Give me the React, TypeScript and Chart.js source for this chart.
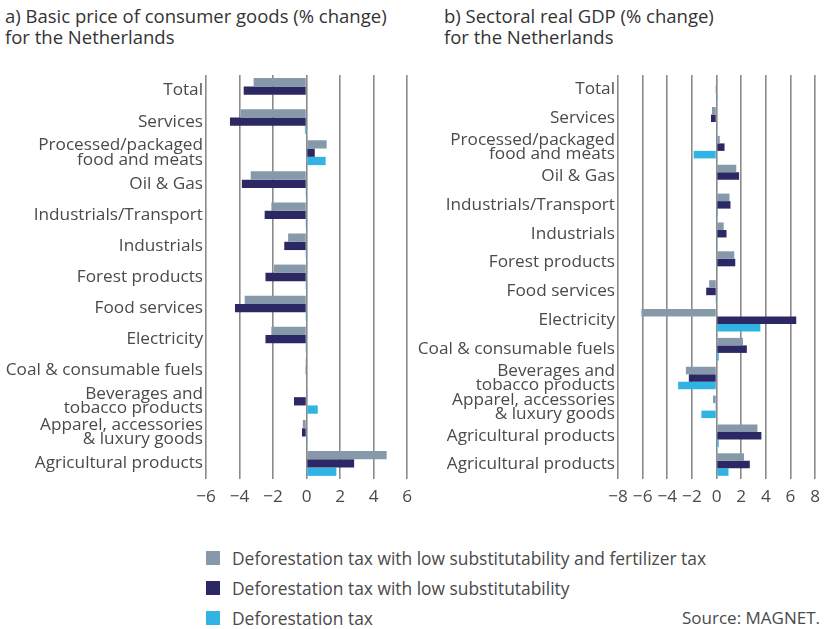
import React, { useEffect, useRef } from "react";
import { Chart, registerables } from "chart.js";

Chart.register(...registerables);

// ---------- Data ----------
const seriesNames = [
  "Deforestation tax with low substitutability and fertilizer tax",
  "Deforestation tax with low substitutability",
  "Deforestation tax",
];
const seriesColors = ["#8699ab", "#2c2864", "#31b4e3"];

const titleA = ["a) Basic price of consumer goods (% change)", "for the Netherlands"];
const titleB = ["b) Sectoral real GDP (% change)", "for the Netherlands"];

const categoriesA: (string | string[])[] = [
  "Total",
  "Services",
  ["Processed/packaged", "food and meats"],
  "Oil & Gas",
  "Industrials/Transport",
  "Industrials",
  "Forest products",
  "Food services",
  "Electricity",
  "Coal & consumable fuels",
  ["Beverages and", "tobacco products"],
  ["Apparel, accessories", "& luxury goods"],
  "Agricultural products",
];
const fertA = [-3.16, -3.94, 1.2, -3.33, -2.1, -1.1, -1.94, -3.69, -2.1, -0.03, 0.02, -0.22, 4.78];
const lowA = [-3.75, -4.57, 0.49, -3.86, -2.5, -1.33, -2.45, -4.27, -2.45, -0.03, -0.75, -0.27, 2.84];
const taxA = [0.05, -0.1, 1.14, -0.02, -0.02, -0.02, -0.02, -0.02, -0.02, 0.05, 0.67, 0.03, 1.78];

const categoriesB: (string | string[])[] = [
  "Total",
  "Services",
  ["Processed/packaged", "food and meats"],
  "Oil & Gas",
  "Industrials/Transport",
  "Industrials",
  "Forest products",
  "Food services",
  "Electricity",
  "Coal & consumable fuels",
  ["Beverages and", "tobacco products"],
  ["Apparel, accessories", "& luxury goods"],
  "Agricultural products",
  "Agricultural products",
];
const fertB = [0.02, -0.37, 0.26, 1.6, 1.05, 0.58, 1.44, -0.6, -6.1, 2.15, -2.49, -0.29, 3.32, 2.23];
const lowB = [-0.05, -0.45, 0.65, 1.83, 1.13, 0.81, 1.52, -0.84, 6.47, 2.46, -2.25, -0.05, 3.64, 2.7];
const taxB = [0.02, 0.05, -1.86, 0.05, 0.1, 0.08, 0.08, -0.02, 3.56, 0.18, -3.12, -1.23, 0.18, 0.97];

const xRangeA = [-6, 6];
const xRangeB = [-8, 8];
const sourceText = "Source: MAGNET.";

const FONT = "'Open Sans', 'Noto Sans', sans-serif";
const TEXT = "#4a4a4a";
const FS = 17.2;

function makeChart(
  canvas: HTMLCanvasElement,
  labels: (string | string[])[],
  values: number[][],
  range: number[],
  yWidth: number,
  padRight: number,
  catPct: number
) {
  return new Chart(canvas, {
    type: "bar",
    data: {
      labels,
      datasets: values.map((v, i) => ({
        label: seriesNames[i],
        data: v,
        backgroundColor: seriesColors[i],
        borderWidth: 0,
        barPercentage: 1,
        categoryPercentage: catPct,
      })),
    },
    options: {
      indexAxis: "y",
      animation: false,
      responsive: false,
      maintainAspectRatio: false,
      layout: { padding: { top: 75, left: 0, right: padRight, bottom: 0 } },
      plugins: { legend: { display: false }, tooltip: { enabled: false } },
      scales: {
        x: {
          min: range[0],
          max: range[1],
          ticks: {
            stepSize: 2,
            padding: 8,
            color: TEXT,
            maxRotation: 0,
            autoSkip: false,
            font: { family: FONT, size: FS },
            callback: (v: any) => (Number(v) < 0 ? "\u2212" + Math.abs(Number(v)) : String(v)),
          },
          grid: { color: "#8a8a8a", lineWidth: 1.6, drawTicks: false },
          border: { display: false },
          afterFit: (s: any) => {
            s.height = 41;
          },
        },
        y: {
          ticks: {
            padding: 3,
            color: TEXT,
            autoSkip: false,
            font: { family: FONT, size: FS, lineHeight: 0.83 },
          },
          grid: { display: false, drawTicks: false },
          border: { display: false },
          afterFit: (s: any) => {
            s.width = yWidth;
          },
        },
      },
    },
  } as any);
}

export default function App() {
  const refA = useRef<HTMLCanvasElement>(null);
  const refB = useRef<HTMLCanvasElement>(null);

  useEffect(() => {
    const a = makeChart(refA.current!, categoriesA, [fertA, lowA, taxA], xRangeA, 206, 10, 0.8);
    const b = makeChart(refB.current!, categoriesB, [fertB, lowB, taxB], xRangeB, 202, 7, 0.78);
    return () => {
      a.destroy();
      b.destroy();
    };
  }, []);

  const titleStyle: React.CSSProperties = {
    position: "absolute",
    top: 5,
    fontFamily: FONT,
    fontSize: 18.5,
    lineHeight: "21px",
    color: "#333",
    whiteSpace: "nowrap",
  };

  return (
    <div
      style={{
        position: "absolute",
        left: 0,
        top: 0,
        width: 828,
        height: 629,
        background: "#fff",
        overflow: "hidden",
        fontFamily: FONT,
      }}
    >
      <div style={{ ...titleStyle, left: 5 }}>
        {titleA[0]}
        <br />
        {titleA[1]}
      </div>
      <div style={{ ...titleStyle, left: 444 }}>
        {titleB[0]}
        <br />
        {titleB[1]}
      </div>
      <canvas
        ref={refA}
        width={420}
        height={520}
        style={{ position: "absolute", left: 0, top: 0, width: 420, height: 520 }}
      />
      <canvas
        ref={refB}
        width={412}
        height={520}
        style={{ position: "absolute", left: 416, top: 0, width: 412, height: 520 }}
      />
      {seriesNames.map((n, i) => (
        <div
          key={n}
          style={{
            position: "absolute",
            left: 206,
            top: 547 + i * 30,
            height: 22,
            display: "flex",
            alignItems: "center",
            fontSize: 17.4,
            color: TEXT,
            whiteSpace: "nowrap",
          }}
        >
          <span
            style={{
              display: "inline-block",
              width: 14,
              height: 14,
              background: seriesColors[i],
              marginRight: 12,
            }}
          />
          {n}
        </div>
      ))}
      <div
        style={{
          position: "absolute",
          right: 8,
          top: 607,
          height: 22,
          lineHeight: "22px",
          fontSize: 17,
          color: TEXT,
          whiteSpace: "nowrap",
        }}
      >
        {sourceText}
      </div>
    </div>
  );
}
